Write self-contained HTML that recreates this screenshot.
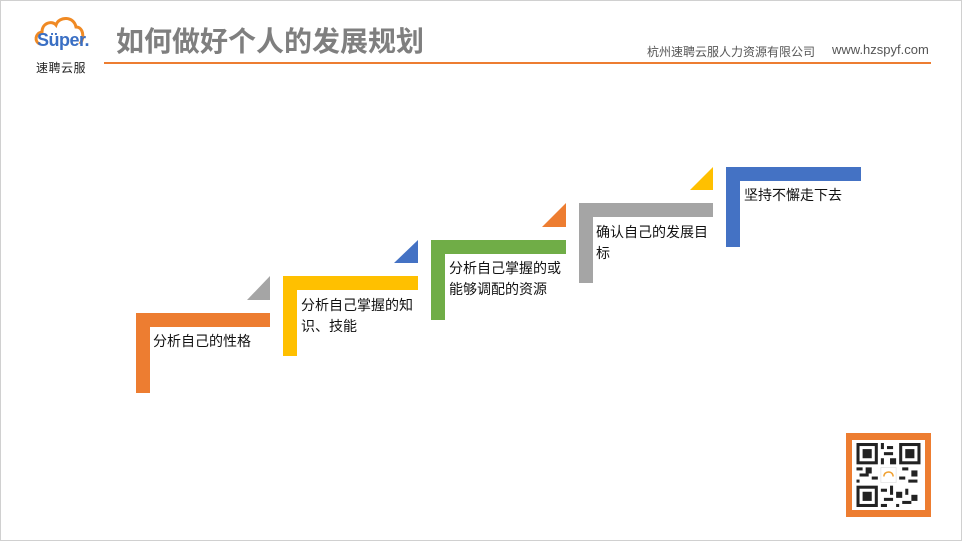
<!DOCTYPE html>
<html><head><meta charset="utf-8"><style>
*{margin:0;padding:0;box-sizing:border-box}
body{width:962px;height:541px;position:relative;background:#fff;overflow:hidden;font-family:"Liberation Sans","Noto Sans CJK SC",sans-serif}
.b{position:absolute}
.t{position:absolute;font-size:14px;color:#111;line-height:21px}
</style></head><body>
<div class="b" style="left:0;top:0;width:962px;height:541px;border:1px solid #d0d0d0"></div>
<!-- logo -->
<svg class="b" style="left:34px;top:14px" width="52" height="40" viewBox="0 0 52 40">
<path d="M6 30 C0 28 1 19 8 18 C8 9 18 6 22 11 C25 2 40 2 42 13 C49 13 51 23 46 30" fill="none" stroke="#f08a24" stroke-width="3"/>
</svg>
<div class="b" style="left:37px;top:30px;font-size:18px;font-weight:bold;color:#3a6fc4;letter-spacing:-0.5px">Süper.</div>
<div class="b" style="left:36px;top:59px;font-size:12px;color:#222;letter-spacing:0.5px">速聘云服</div>
<div class="b" style="left:116px;top:25px;font-size:28px;line-height:34px;font-weight:bold;color:#7f7f7f">如何做好个人的发展规划</div>
<div class="b" style="left:647px;top:43px;font-size:12px;color:#555">杭州速聘云服人力资源有限公司</div>
<div class="b" style="left:832px;top:42px;font-size:13px;color:#555">www.hzspyf.com</div>
<div class="b" style="left:104px;top:62px;width:827px;height:2px;background:#ed7d31"></div>

<svg class="b" style="left:0;top:0" width="962" height="541">
<g>
<rect x="136" y="313" width="134" height="14" fill="#ed7d31"/><rect x="136" y="313" width="14" height="80" fill="#ed7d31"/>
<polygon points="270,276 270,300 247,300" fill="#a5a5a5"/>
<rect x="283" y="276" width="135" height="14" fill="#ffc000"/><rect x="283" y="276" width="14" height="80" fill="#ffc000"/>
<polygon points="418,240 418,263 394,263" fill="#4472c4"/>
<rect x="431" y="240" width="135" height="14" fill="#70ad47"/><rect x="431" y="240" width="14" height="80" fill="#70ad47"/>
<polygon points="566,203 566,227 542,227" fill="#ed7d31"/>
<rect x="579" y="203" width="134" height="14" fill="#a5a5a5"/><rect x="579" y="203" width="14" height="80" fill="#a5a5a5"/>
<polygon points="713,167 713,190 690,190" fill="#ffc000"/>
<rect x="726" y="167" width="135" height="14" fill="#4472c4"/><rect x="726" y="167" width="14" height="80" fill="#4472c4"/>
</g>
</svg>
<div class="t" style="left:153px;top:331px">分析自己的性格</div>
<div class="t" style="left:301px;top:295px;width:116px">分析自己掌握的知识、技能</div>
<div class="t" style="left:449px;top:258px;width:116px">分析自己掌握的或能够调配的资源</div>
<div class="t" style="left:596px;top:222px;width:116px">确认自己的发展目标</div>
<div class="t" style="left:744px;top:185px">坚持不懈走下去</div>

<div class="b" style="left:846px;top:433px;width:85px;height:84px;background:#ed7d31"></div>
<div class="b" style="left:852px;top:440px;width:73px;height:70px;background:#fff"></div>
<svg class="b" style="left:856px;top:443px" width="65" height="64" viewBox="0 0 21 21">
<g fill="#222">
<rect x="0" y="0" width="7" height="7"/><rect x="14" y="0" width="7" height="7"/><rect x="0" y="14" width="7" height="7"/>
</g>
<g fill="#fff"><rect x="1" y="1" width="5" height="5"/><rect x="15" y="1" width="5" height="5"/><rect x="1" y="15" width="5" height="5"/></g>
<g fill="#222"><rect x="2" y="2" width="3" height="3"/><rect x="16" y="2" width="3" height="3"/><rect x="2" y="16" width="3" height="3"/>
<rect x="8" y="0" width="1" height="2"/><rect x="10" y="1" width="2" height="1"/><rect x="9" y="3" width="3" height="1"/><rect x="8" y="5" width="1" height="2"/><rect x="11" y="5" width="2" height="2"/>
<rect x="0" y="8" width="2" height="1"/><rect x="3" y="8" width="2" height="2"/><rect x="1" y="10" width="3" height="1"/><rect x="5" y="11" width="2" height="1"/><rect x="0" y="12" width="1" height="1"/>
<rect x="15" y="8" width="2" height="1"/><rect x="18" y="9" width="2" height="2"/><rect x="14" y="11" width="2" height="1"/><rect x="17" y="12" width="3" height="1"/>
<rect x="8" y="15" width="2" height="1"/><rect x="11" y="14" width="1" height="3"/><rect x="9" y="18" width="3" height="1"/><rect x="13" y="16" width="2" height="2"/><rect x="16" y="15" width="1" height="2"/><rect x="18" y="17" width="2" height="2"/><rect x="15" y="19" width="3" height="1"/><rect x="8" y="20" width="2" height="1"/><rect x="13" y="20" width="1" height="1"/>
</g>
<rect x="8" y="8" width="5" height="5" fill="#fff" stroke="#ddd" stroke-width="0.2"/>
<path d="M9 11 C9 9 12 9 12 11" fill="none" stroke="#f0a030" stroke-width="0.5"/>
</svg>
</body></html>
